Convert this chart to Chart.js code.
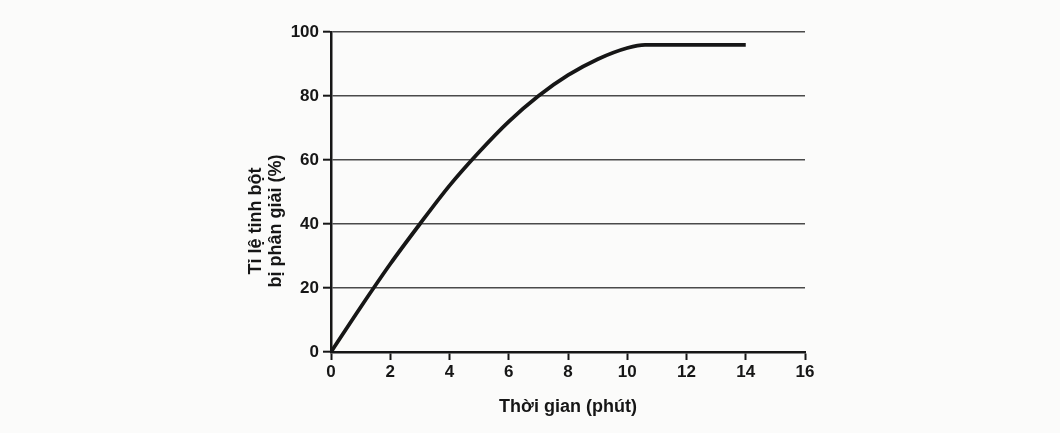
<!DOCTYPE html>
<html>
<head>
<meta charset="utf-8">
<script src="https://cdn.jsdelivr.net/npm/chart.js@4"></script>
<style>
  html, body { margin: 0; padding: 0; background: #fbfbfa; }
  #wrap { width: 1060px; height: 433px; }
</style>
</head>
<body>
<div id="wrap"><canvas id="lineChart"></canvas></div>
<script>
// dữ liệu
const times = [0, 1, 2, 3, 4, 5, 6, 7, 8, 9, 10, 10.6, 12, 13, 14];
const percents = [0, 14, 27.5, 40, 52, 62.5, 72, 80, 86.5, 91.5, 95, 96, 96, 96, 96];
const xTicks = [0, 2, 4, 6, 8, 10, 12, 14, 16];
const yTicks = [0, 20, 40, 60, 80, 100];
const yTitle = ['Tỉ lệ tinh bột', 'bị phân giải (%)'];

const ink = '#161616';
const family = 'Liberation Sans, Arial, sans-serif';
const tickFont = { family: family, size: 17, weight: 'bold' };

// tiêu đề trục tung vẽ lệch xuống như hình gốc
const yTitlePlugin = {
    id: 'yTitle',
    afterDraw(chart) {
        const c = chart.ctx;
        c.save();
        c.fillStyle = ink;
        c.font = 'bold 18px ' + family;
        c.textAlign = 'center';
        c.textBaseline = 'middle';
        yTitle.forEach((line, i) => {
            c.save();
            c.translate(256 + i * 20, 221);
            c.rotate(-Math.PI / 2);
            c.fillText(line, 0, 0);
            c.restore();
        });
        c.restore();
    }
};

const ctx = document.getElementById('lineChart').getContext('2d');
const chart = new Chart(ctx, {
    type: 'line',
    data: {
        datasets: [{
            data: times.map((t, i) => ({ x: t, y: percents[i] })),
            borderColor: ink,
            borderWidth: 3.8,
            pointRadius: 0,
            fill: false,
            cubicInterpolationMode: 'monotone'
        }]
    },
    options: {
        responsive: true,
        maintainAspectRatio: false,
        animation: false,
        layout: { padding: { left: 238, right: 255, top: 32, bottom: 10 } },
        plugins: { legend: { display: false }, tooltip: { enabled: false } },
        scales: {
            x: {
                type: 'linear',
                min: 0,
                max: 16,
                afterBuildTicks: (s) => { s.ticks = xTicks.map(v => ({ value: v })); },
                afterFit: (s) => { s.height = 71; },
                border: { color: ink, width: 2.5 },
                grid: { drawOnChartArea: false, tickLength: 8, tickColor: ink, tickWidth: 2 },
                ticks: { color: ink, font: tickFont, padding: 2, maxRotation: 0 },
                title: {
                    display: true,
                    text: 'Thời gian (phút)',
                    color: ink,
                    font: { family: family, size: 18, weight: 'bold' },
                    padding: { top: 0, bottom: 5 }
                }
            },
            y: {
                min: 0,
                max: 100,
                afterBuildTicks: (s) => { s.ticks = yTicks.map(v => ({ value: v })); },
                afterFit: (s) => { s.width = 93; },
                border: { color: ink, width: 2.5 },
                grid: { color: '#4a4a4a', lineWidth: 1.4, tickLength: 8, tickColor: ink, tickWidth: 2 },
                ticks: { color: ink, font: tickFont, padding: 4 }
            }
        }
    },
    plugins: [yTitlePlugin]
});
</script>
</body>
</html>
